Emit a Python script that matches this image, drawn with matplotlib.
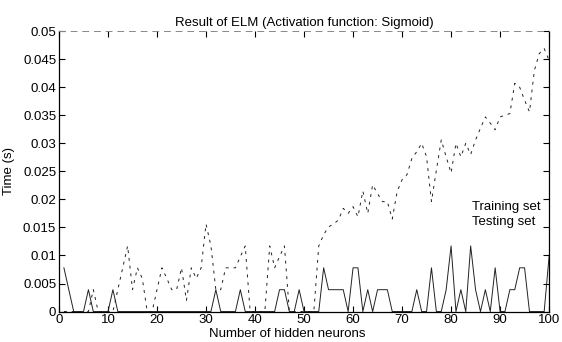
import matplotlib
matplotlib.use("Agg")
import matplotlib.pyplot as plt
import numpy as np

plt.rcParams["font.family"] = ["Liberation Sans", "DejaVu Sans"]

# number of hidden neurons
neurons = np.arange(1, 101)

# training time (s)
train_time = [
    0, 0, 0, 0, 0, 0, 0.0039, 0, 0, 0,
    0, 0.0039, 0.0078, 0.0117, 0.0039, 0.0078, 0.0059, 0, 0, 0.0039,
    0.0078, 0.0059, 0.0039, 0.0039, 0.0078, 0.0020, 0.0078, 0.0059, 0.0078, 0.0156,
    0.0117, 0.0039, 0.0039, 0.0078, 0.0078, 0.0078, 0.0098, 0.0117, 0, 0,
    0, 0, 0.0117, 0.0078, 0.0098, 0.0117, 0, 0, 0, 0,
    0, 0, 0.0117, 0.0137, 0.0151, 0.0156, 0.0163, 0.0184, 0.0175, 0.0187,
    0.0169, 0.0215, 0.0175, 0.0226, 0.0210, 0.0196, 0.0196, 0.0165, 0.0214, 0.0235,
    0.0244, 0.0273, 0.0285, 0.0300, 0.0276, 0.0196, 0.0252, 0.0306, 0.0276, 0.0247,
    0.0300, 0.0276, 0.0300, 0.0280, 0.0306, 0.0327, 0.0347, 0.0336, 0.0324, 0.0347,
    0.0350, 0.0353, 0.0407, 0.0400, 0.0377, 0.0356, 0.0430, 0.0460, 0.0469, 0.0448,
]

# testing time (s)
test_time = [
    0.0078, 0.0039, 0, 0, 0, 0.0039, 0, 0, 0, 0,
    0.0039, 0, 0, 0, 0, 0, 0, 0, 0, 0,
    0, 0, 0, 0, 0, 0, 0, 0, 0, 0,
    0, 0.0039, 0, 0, 0, 0, 0.0039, 0, 0, 0,
    0, 0, 0, 0, 0.0039, 0.0039, 0, 0, 0.0039, 0,
    0, 0, 0, 0.0078, 0.0039, 0.0039, 0.0039, 0.0039, 0, 0.0078,
    0.0078, 0, 0.0039, 0, 0.0039, 0.0039, 0.0039, 0, 0, 0,
    0, 0, 0.0039, 0, 0, 0.0078, 0, 0, 0.0039, 0.0117,
    0, 0.0039, 0, 0.0117, 0.0039, 0, 0.0039, 0, 0.0078, 0,
    0, 0.0039, 0.0039, 0.0078, 0.0078, 0, 0, 0, 0, 0.0098,
]

fig = plt.figure(figsize=(5.62, 3.42), dpi=100)
ax = fig.add_axes([0.105, 0.089, 0.872, 0.82])

ax.plot(neurons, train_time, color="#222222", lw=0.7, dashes=(3, 5), label="Training set")
ax.plot(neurons, test_time, color="#222222", lw=0.7, label="Testing set")

ax.set_xlim(0, 100)
ax.set_ylim(0, 0.05)
ax.set_xticks(np.arange(0, 101, 10))
ax.set_yticks(np.arange(0, 0.0501, 0.005))
ax.set_yticklabels(["0", "0.005", "0.01", "0.015", "0.02", "0.025",
                    "0.03", "0.035", "0.04", "0.045", "0.05"])
ax.tick_params(direction="in", length=4, width=0.8, labelsize=9.5,
               top=True, right=True, pad=2, color="black")

for side in ["left", "bottom", "right"]:
    ax.spines[side].set_linewidth(0.9)
ax.spines["top"].set_color("#888888")
ax.spines["top"].set_linestyle((0, (6, 6)))
ax.spines["top"].set_linewidth(0.7)

ax.set_title("Result of ELM (Activation function: Sigmoid)", fontsize=9.5, pad=4)
ax.set_xlabel("Number of hidden neurons", fontsize=9.5)
ax.set_ylabel("Time (s)", fontsize=9.5)
ax.xaxis.set_label_coords(0.465, -0.06)
ax.yaxis.set_label_coords(-0.09, 0.5)

ax.legend(loc="upper left", bbox_to_anchor=(0.83, 0.42), frameon=False,
          handlelength=0, handletextpad=0, fontsize=9.5, borderpad=0,
          labelspacing=0.25)

fig.savefig("out.png", dpi=100)
